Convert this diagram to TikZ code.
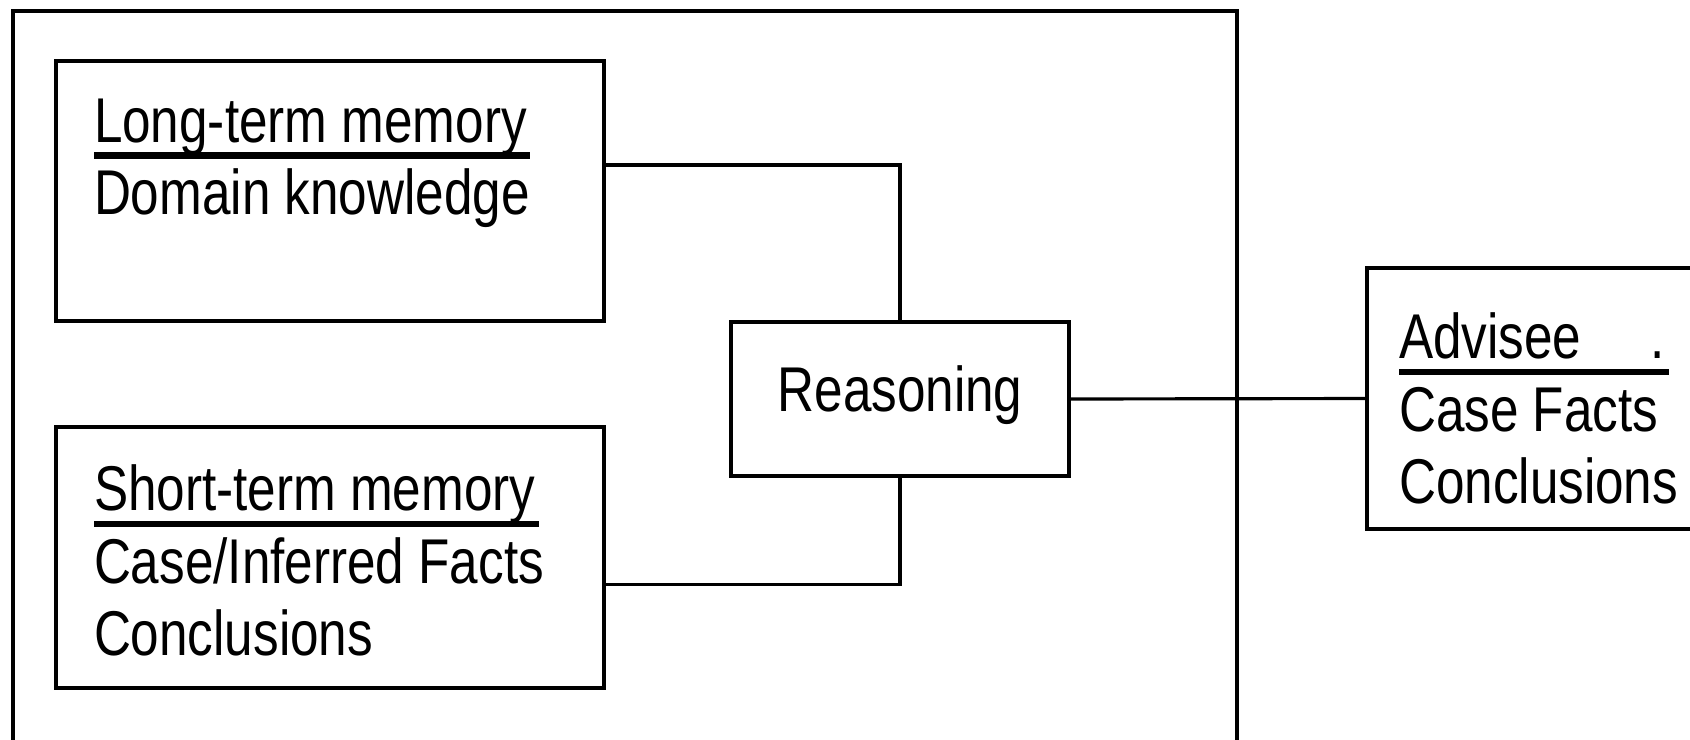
\documentclass[tikz,border=0pt]{standalone}
\usepackage{fontspec}
\setmainfont{Liberation Sans}[FakeStretch=0.81]
\usetikzlibrary{positioning,calc}

\newlength\ulwidth
\newcommand{\ulhead}[1]{\settowidth{\ulwidth}{#1}\addtolength{\ulwidth}{1pt}%
\makebox[0pt][l]{\rule[-4.6pt]{\ulwidth}{1.8pt}}#1}

\begin{document}
\begin{tikzpicture}[every node/.style={outer sep=0pt,inner sep=0pt},line width=0.9pt]
\tikzstyle{box}=[draw,line width=0.9pt]
\tikzstyle{txt}=[anchor=north west,align=left,font=\fontsize{18}{20.6}\selectfont]
\useasboundingbox (0,0) rectangle (16.9,-7.39);
% outer frame, open at the bottom
\draw (0.13,-7.7) |- (12.37,-0.11) -- (12.37,-7.7);
% memories
\node (LTM) [box,minimum width=5.48cm,minimum height=2.6cm] at (3.30,-1.91) {};
\node (LTMtext) [txt] at ($(LTM.north west)+(0.38,-0.38)$)
  {\ulhead{Long-term memory}\\Domain knowledge};
\node (STM) [box,minimum width=5.48cm,minimum height=2.61cm] at (3.30,-5.575) {};
\node (STMtext) [txt] at ($(STM.north west)+(0.38,-0.38)$)
  {\ulhead{Short-term memory}\\Case/Inferred Facts\\Conclusions};
% reasoning and advisee
\node (RSN) [box,minimum width=3.38cm,minimum height=1.54cm,font=\fontsize{18}{20.6}\selectfont,
  text height=13pt,text depth=6pt] at (9.00,-3.99) {Reasoning};
\node (ADV) [box,minimum width=3.43cm,minimum height=2.61cm] at (15.385,-3.985) {};
\node (ADVtext) [txt] at ($(ADV.north west)+(0.32,-0.45)$)
  {\ulhead{Advisee\hspace{1.1em}.}\\Case Facts\\Conclusions};
% links
\draw ($(LTM.east)+(0,0.26)$) -| (RSN.north);
\draw ($(STM.east)+(0,-0.27)$) -| (RSN.south);
\draw (RSN.east) -- (ADV.west);
\end{tikzpicture}
\end{document}
